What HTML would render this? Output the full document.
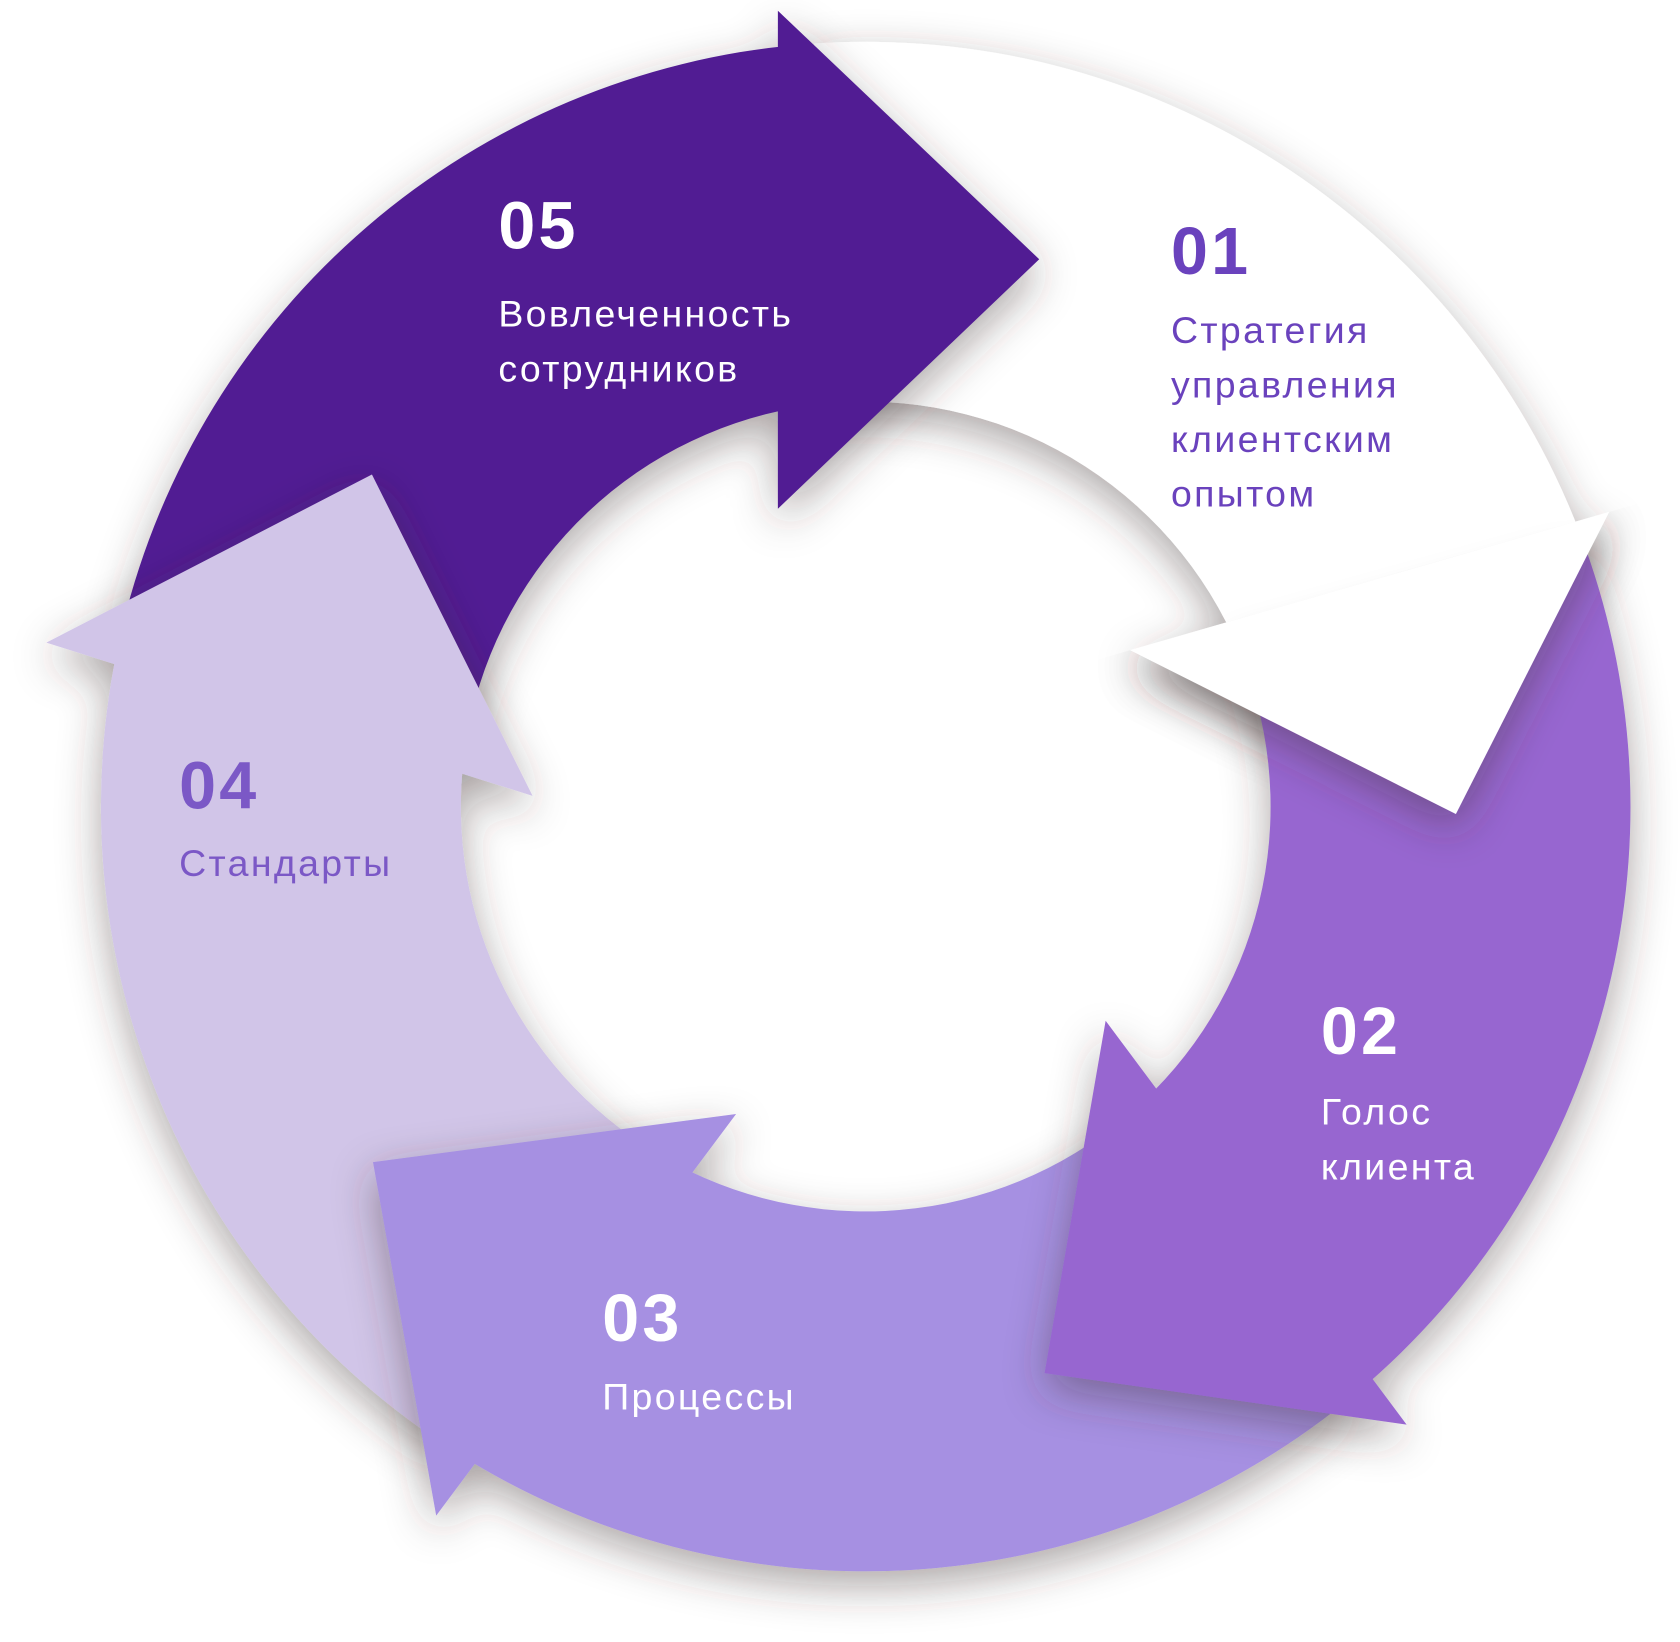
<!DOCTYPE html>
<html><head><meta charset="utf-8"><style>
html,body{margin:0;padding:0;background:#fff;width:1680px;height:1642px;overflow:hidden}
svg{display:block}
text{font-family:"Liberation Sans","DejaVu Sans",sans-serif}
.n{font-weight:bold;font-size:62px;letter-spacing:3px}
.t{font-size:35px;letter-spacing:2.2px}
</style></head><body>
<svg id="s" width="1680" height="1642" viewBox="0 0 1568 1533" xmlns="http://www.w3.org/2000/svg">
<defs>
<filter id="sh" x="-30%" y="-30%" width="160%" height="160%">
<feDropShadow dx="0" dy="14" stdDeviation="20" flood-color="#3a2a2a" flood-opacity="0.42"/>
</filter>
<clipPath id="cp"><polygon points="155,867 1055,607 1502,478 1802,391 1802,1600 155,1600"/></clipPath>
</defs>
<g id="shapes"></g>
<g>
<text class="n" x="465" y="232" fill="#fff">05</text>
<text class="t" x="465" y="305" fill="#fff">Вовлеченность</text>
<text class="t" x="465" y="356" fill="#fff">сотрудников</text>
<text class="n" x="1093" y="256" fill="#6a42bd">01</text>
<text class="t" x="1093" y="320" fill="#6a42bd">Стратегия</text>
<text class="t" x="1093" y="371" fill="#6a42bd">управления</text>
<text class="t" x="1093" y="422" fill="#6a42bd">клиентским</text>
<text class="t" x="1093" y="473" fill="#6a42bd">опытом</text>
<text class="n" x="1233" y="984" fill="#fff">02</text>
<text class="t" x="1233" y="1050" fill="#fff">Голос</text>
<text class="t" x="1233" y="1101" fill="#fff">клиента</text>
<text class="n" x="562" y="1252" fill="#fff">03</text>
<text class="t" x="562" y="1316" fill="#fff">Процессы</text>
<text class="n" x="167" y="755" fill="#7b58c6">04</text>
<text class="t" x="167" y="818" fill="#7b58c6">Стандарты</text>
</g>
</svg>
<script>
var cx=808,cy=753,R=714,r=378;
var segs=[
 {c:"#ffffff",so:[1465,478],si:[1143,577],tip:[1359,760],b1:[1502,478],b2:[1055,607]},
 {c:"#9766d0",so:[1280,1282],si:[1080,1015],tip:[1313,1330],b1:[975,1282],b2:[1032,953]},
 {c:"#a690e2",so:[448,1360],si:[650,1092],tip:[407,1415],b1:[348,1085],b2:[687,1040]},
 {c:"#d1c5e8",so:[105,618],si:[428,722],tip:[347,443],b1:[43,600],b2:[497,743]},
 {c:"#511b93",so:[726,58],si:[726,390],tip:[970,242],b1:[726,10],b2:[726,475]}
];
function ang(p){return Math.atan2(p[1]-cy,p[0]-cx);}
function pt(a,rad){return [cx+rad*Math.cos(a),cy+rad*Math.sin(a)];}
function tri(s){var a=s.b1,b=s.tip,c=s.b2;
 var area=(a[0]*b[1]-b[0]*a[1])+(b[0]*c[1]-c[0]*b[1])+(c[0]*a[1]-a[0]*c[1]);
 if(area<0){var t=a;a=c;c=t;}
 return " M"+a+" L"+b+" L"+c+" Z";}
var G=document.getElementById("shapes"),NS="http://www.w3.org/2000/svg";
var paths=[];
for(var i=0;i<5;i++){
 var s=segs[i],p=segs[(i+4)%5];
 var ao0=ang(p.so)+0.05, ai0=ang(p.si)+0.07;
 var ao1=ang(s.so)+0.03, ai1=ang(s.si)+0.05;
 while(ao1<ao0)ao1+=2*Math.PI; while(ai1<ai0)ai1+=2*Math.PI;
 var A=pt(ao0,R),Bp=pt(ao1,R),C=pt(ai1,r),D=pt(ai0,r);
 var lo=(ao1-ao0)>Math.PI?1:0, li=(ai1-ai0)>Math.PI?1:0;
 var d="M"+A+" A"+R+" "+R+" 0 "+lo+" 1 "+Bp+" L"+C+" A"+r+" "+r+" 0 "+li+" 0 "+D+" Z";
 d+=tri(s);
 paths.push(d);
}
function add(d,c,clip){var e=document.createElementNS(NS,"path");e.setAttribute("d",d);e.setAttribute("fill",c);e.setAttribute("fill-rule","nonzero");e.setAttribute("filter","url(#sh)");
 if(clip){var g=document.createElementNS(NS,"g");g.setAttribute("clip-path","url(#cp)");g.appendChild(e);G.appendChild(g);}else G.appendChild(e);}
var order=[0,4,3,2,1];
order.forEach(function(i){add(paths[i],segs[i].c);});
add(tri(segs[0]),"#ffffff",true);
</script>
</body></html>
